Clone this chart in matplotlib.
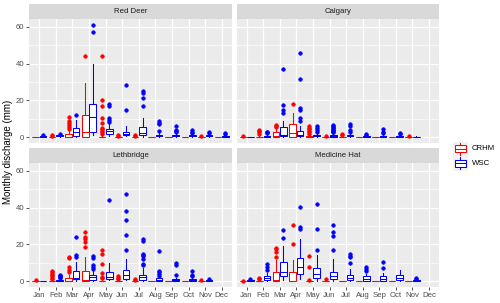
import numpy as np
import matplotlib
matplotlib.use("Agg")
import matplotlib.pyplot as plt

plt.rcParams['font.family'] = ['Liberation Sans', 'DejaVu Sans']

months = ["Jan", "Feb", "Mar", "Apr", "May", "Jun", "Jul", "Aug", "Sep", "Oct", "Nov", "Dec"]
sources = ["CRHM", "WSC"]
colours = {"CRHM": "#FF0000", "WSC": "#0000FF"}

# each month: (whislo, q1, median, q3, whishi, [outliers]); None = no data
red_deer_crhm = [
    (0, 0, 0, 0, 0.1, []),
    (0, 0, 0, 0, 0.1, [0.5, 1.0]),
    (0, 0, 0.3, 1.6, 3.5, [4.3, 5.4, 6.7, 7.9, 9.0, 11.2]),
    (0, 0.2, 2.5, 12.1, 29.6, [44.1]),
    (0, 0, 0.1, 0.3, 0.7, [1.5, 2.5, 3.5, 4.4, 5.2, 7.6, 10.3, 17.0, 20.2, 44.1]),
    (0, 0, 0, 0.1, 0.3, [0.6, 1.0]),
    (0, 0, 0, 0.1, 0.2, [0.5, 0.9]),
    (0, 0, 0, 0, 0.1, []),
    (0, 0, 0, 0, 0.1, []),
    (0, 0, 0, 0, 0.1, []),
    (0, 0, 0, 0.1, 0.2, [0.4]),
    (0, 0, 0, 0, 0.1, []),
]
red_deer_wsc = [
    (0.1, 0.3, 0.5, 0.7, 1.0, [1.2]),
    (0.1, 0.4, 0.6, 0.9, 1.2, [1.5]),
    (0.2, 0.7, 2.5, 4.9, 9.5, [12.1]),
    (1.2, 2.5, 10.8, 18.0, 39.8, [57.3, 61.3]),
    (0.8, 1.8, 3.3, 4.3, 7.2, [8.2, 9.4, 10.3, 17.0, 18.0]),
    (0.4, 0.9, 1.8, 2.7, 6.0, [14.8, 28.4]),
    (0.3, 0.9, 2.0, 5.4, 10.3, [17.0, 21.3, 24.0, 25.0]),
    (0.1, 0.4, 0.7, 1.2, 2.4, [3.5, 7.2, 7.8, 8.8]),
    (0.1, 0.4, 0.6, 1.0, 1.8, [2.8, 3.4, 4.0, 6.2]),
    (0.1, 0.4, 0.6, 0.9, 1.5, [2.0, 2.7, 3.7]),
    (0.1, 0.4, 0.6, 0.9, 1.5, [2.0, 2.6]),
    (0.1, 0.3, 0.5, 0.8, 1.2, [1.6, 2.0]),
]
calgary_crhm = [
    (0, 0, 0.1, 0.2, 0.3, [0.4]),
    (0, 0, 0.1, 0.3, 0.8, [1.5, 2.5, 3.3, 4.0]),
    (0, 0.1, 0.5, 2.5, 4.5, [5.3, 6.0, 6.8]),
    (0, 0.2, 2.0, 7.0, 13.0, [18.2]),
    (0, 0, 0.1, 0.4, 1.0, [1.5, 2.5, 3.5, 4.5, 5.2, 6.1]),
    (0, 0, 0.1, 0.2, 0.4, [0.6]),
    (0, 0, 0.1, 0.3, 0.6, [1.0, 1.5]),
    (0, 0, 0, 0.1, 0.2, []),
    (0, 0, 0, 0.1, 0.2, []),
    (0, 0, 0, 0.1, 0.2, []),
    (0, 0, 0.1, 0.2, 0.3, [0.4]),
    None,
]
calgary_wsc = [
    (0, 0, 0, 0.1, 0.1, []),
    (0, 0.2, 0.4, 0.8, 1.5, [2.0, 2.5, 3.0]),
    (0.3, 0.6, 1.2, 5.5, 8.5, [13.0, 14.8, 17.5, 37.0]),
    (0.2, 0.6, 1.0, 3.4, 6.0, [8.5, 10.3, 14.5, 15.7, 31.5, 45.6]),
    (0.2, 0.5, 0.8, 1.3, 2.5, [3.0, 4.0, 5.0, 6.0]),
    (0.1, 0.3, 0.6, 1.0, 2.0, [2.5, 3.0, 3.5, 4.0, 4.5, 5.0, 5.5, 6.0, 6.5]),
    (0.1, 0.4, 0.6, 1.0, 2.0, [2.8, 4.0, 5.8, 7.2]),
    (0.1, 0.3, 0.5, 0.7, 1.0, [1.3, 1.6]),
    (0.1, 0.3, 0.5, 0.8, 1.2, [2.0, 3.0, 4.2]),
    (0.1, 0.3, 0.5, 0.8, 1.1, [1.5, 2.0]),
    (0, 0.1, 0.2, 0.3, 0.4, []),
    None,
]
lethbridge_crhm = [
    (0, 0, 0, 0.1, 0.2, [0.4]),
    (0, 0, 0.1, 0.3, 0.7, [1.2, 1.8, 2.5, 3.3, 4.0, 4.8, 5.6]),
    (0, 0.1, 0.3, 1.5, 3.5, [5.1, 6.0, 7.4, 12.3, 13.2]),
    (0, 0.1, 0.5, 5.6, 13.2, [18.8, 21.5, 22.7, 23.8, 26.8]),
    (0, 0, 0.1, 0.3, 0.8, [1.5, 2.4, 4.2, 9.2, 14.6, 17.1]),
    (0, 0, 0.1, 0.3, 0.7, [1.2, 1.8, 2.7]),
    (0, 0, 0.1, 0.3, 0.5, [0.8, 1.0]),
    (0, 0, 0, 0.1, 0.2, []),
    (0, 0, 0, 0.1, 0.2, []),
    (0, 0, 0, 0.1, 0.2, []),
    (0, 0, 0.1, 0.2, 0.3, [0.5]),
    None,
]
lethbridge_wsc = [
    (0, 0, 0.1, 0.2, 0.3, []),
    (0, 0.1, 0.3, 0.6, 1.2, [1.5, 2.0, 2.5, 3.0, 3.5]),
    (0.3, 0.9, 1.5, 5.6, 10.4, [13.2, 14.1, 24.1]),
    (0.3, 0.8, 2.0, 3.5, 6.0, [6.5, 7.8, 8.7, 12.3, 13.6]),
    (0.4, 0.9, 2.4, 5.0, 10.0, [44.0]),
    (0.4, 1.1, 3.3, 6.0, 11.8, [17.0, 25.0, 33.0, 38.0, 47.3]),
    (0.3, 0.8, 2.0, 3.5, 7.0, [8.5, 9.5, 12.0, 13.5, 14.1, 15.0, 22.0, 22.7]),
    (0.1, 0.3, 0.7, 1.5, 2.4, [2.5, 4.0, 4.8, 5.6, 16.5]),
    (0.1, 0.3, 0.5, 0.9, 1.5, [3.5, 8.9, 10.0]),
    (0.1, 0.3, 0.5, 0.9, 1.5, [2.5, 3.5, 5.3]),
    (0, 0.2, 0.4, 0.6, 0.8, [1.0]),
    None,
]
medicine_hat_crhm = [
    (0, 0, 0, 0.1, 0.2, [0.3]),
    (0, 0, 0.1, 0.3, 0.6, [1.0, 1.8]),
    (0, 0.1, 0.5, 5.1, 11.4, [13.3, 16.0, 17.4, 18.1]),
    (0, 0.1, 0.3, 5.1, 11.4, [20.0, 30.4]),
    (0, 0, 0.1, 0.3, 0.5, [0.8, 7.4, 13.6]),
    (0, 0, 0.1, 0.3, 0.6, [1.0]),
    (0, 0, 0, 0.1, 0.2, []),
    (0, 0, 0, 0.1, 0.2, []),
    (0, 0, 0, 0.1, 0.2, []),
    (0, 0, 0, 0.1, 0.2, []),
    (0, 0, 0, 0.1, 0.2, []),
    None,
]
medicine_hat_wsc = [
    (0, 0.2, 0.4, 0.6, 0.9, [1.0]),
    (0.2, 0.6, 1.5, 2.8, 4.3, [6.3, 7.8, 9.2]),
    (0.5, 2.7, 5.1, 10.5, 19.0, [23.3, 27.7]),
    (1.0, 3.8, 7.8, 12.3, 22.7, [28.3, 29.2, 40.4]),
    (0.3, 1.5, 3.8, 6.9, 14.0, [16.9, 28.5, 41.9]),
    (0.2, 0.9, 2.7, 5.1, 11.8, [16.9, 24.5, 26.8, 30.5]),
    (0.1, 0.5, 1.8, 3.5, 6.5, [9.6, 12.9, 13.6, 14.7]),
    (0.1, 0.3, 1.2, 2.5, 4.0, [5.6, 6.5, 7.4]),
    (0.1, 0.3, 1.3, 2.8, 4.5, [6.9, 10.5]),
    (0.1, 0.5, 1.5, 3.3, 6.0, []),
    (0, 0.2, 0.4, 0.6, 0.8, [1.2, 1.5]),
    None,
]

stations = {
    "Red Deer": (red_deer_crhm, red_deer_wsc),
    "Calgary": (calgary_crhm, calgary_wsc),
    "Lethbridge": (lethbridge_crhm, lethbridge_wsc),
    "Medicine Hat": (medicine_hat_crhm, medicine_hat_wsc),
}

W, H = 500, 303
fig = plt.figure(figsize=(5.0, 3.03), dpi=100)

def px_axes(x0, y0, x1, y1):
    # pixel box (top-left origin) -> figure axes
    return fig.add_axes([x0 / W, 1 - y1 / H, (x1 - x0) / W, (y1 - y0) / H])

panel_x = [(29.3, 231.7), (236.6, 439.0)]
panel_y = [(19.0, 142.7), (163.0, 286.7)]
strip_y = [(4.0, 19.0), (147.7, 163.0)]

grey_txt = "#4D4D4D"
lw_box = 0.75

def draw_boxes(ax, data, offset, colour):
    stats, pos = [], []
    for i, row in enumerate(data):
        if row is None:
            continue
        lo, q1, med, q3, hi, out = row
        stats.append(dict(whislo=lo, q1=q1, med=med, q3=q3, whishi=hi, fliers=out))
        pos.append(i + 1 + offset)
    ax.bxp(stats, positions=pos, widths=0.4, showcaps=False, patch_artist=True,
           boxprops=dict(facecolor="white", edgecolor=colour, linewidth=lw_box),
           whiskerprops=dict(color=colour, linewidth=lw_box),
           medianprops=dict(color=colour, linewidth=lw_box),
           flierprops=dict(marker="o", markerfacecolor=colour, markeredgecolor=colour,
                           markeredgewidth=0.4, markersize=2.6, linestyle="none"),
           manage_ticks=False)

for k, (name, (crhm, wsc)) in enumerate(stations.items()):
    r, c = divmod(k, 2)
    x0, x1 = panel_x[c]
    y0, y1 = panel_y[r]
    ax = px_axes(x0, y0, x1, y1)
    ax.set_facecolor("#EBEBEB")
    for s in ax.spines.values():
        s.set_visible(False)
    ax.set_xlim(0.4, 12.6)
    ax.set_ylim(-3.06, 64.3)
    ax.set_xticks(np.arange(1, 13))
    ax.set_yticks([0, 20, 40, 60])
    ax.set_yticks([10, 30, 50], minor=True)
    ax.grid(True, which="major", color="white", linewidth=0.9)
    ax.grid(True, which="minor", axis="y", color="white", linewidth=0.45)
    ax.set_axisbelow(True)
    ax.tick_params(which="minor", length=0)
    ax.tick_params(which="major", length=2.2, width=0.6, color="#333333",
                   labelsize=5.6, labelcolor=grey_txt, pad=1.5)
    if r == 1:
        ax.set_xticklabels(months)
    else:
        ax.tick_params(axis="x", length=0, labelbottom=False)
    if c == 0:
        ax.set_yticklabels(["0", "20", "40", "60"])
    else:
        ax.tick_params(axis="y", length=0, labelleft=False)

    draw_boxes(ax, crhm, -0.225, colours["CRHM"])
    draw_boxes(ax, wsc, 0.225, colours["WSC"])

    sy0, sy1 = strip_y[r]
    st = px_axes(x0, sy0, x1, sy1)
    st.set_facecolor("#D9D9D9")
    st.set_xticks([])
    st.set_yticks([])
    for s in st.spines.values():
        s.set_visible(False)
    st.text(0.5, 0.5, name, ha="center", va="center", fontsize=5.6, color="#1A1A1A")

fig.text(8 / W, 1 - 152 / H, "Monthly discharge (mm)", rotation=90,
         ha="center", va="center", fontsize=7, color="black")

# legend keys
for j, src in enumerate(sources):
    ky0 = 141.5 + j * 14.5
    kax = px_axes(453, ky0, 467.5, ky0 + 14.5)
    kax.set_facecolor("#F2F2F2")
    for s in kax.spines.values():
        s.set_visible(False)
    kax.set_xlim(0, 1)
    kax.set_ylim(0, 1)
    kax.set_xticks([])
    kax.set_yticks([])
    col = colours[src]
    kax.bxp([dict(whislo=0.1, q1=0.25, med=0.5, q3=0.75, whishi=0.9, fliers=[])],
            positions=[0.5], widths=0.75, showcaps=False, patch_artist=True,
            boxprops=dict(facecolor="white", edgecolor=col, linewidth=lw_box),
            whiskerprops=dict(color=col, linewidth=lw_box),
            medianprops=dict(color=col, linewidth=lw_box), manage_ticks=False)
    fig.text(472 / W, 1 - (ky0 + 7.25) / H, src, ha="left", va="center",
             fontsize=5.6, color="black")

fig.savefig("out.png", dpi=100)
